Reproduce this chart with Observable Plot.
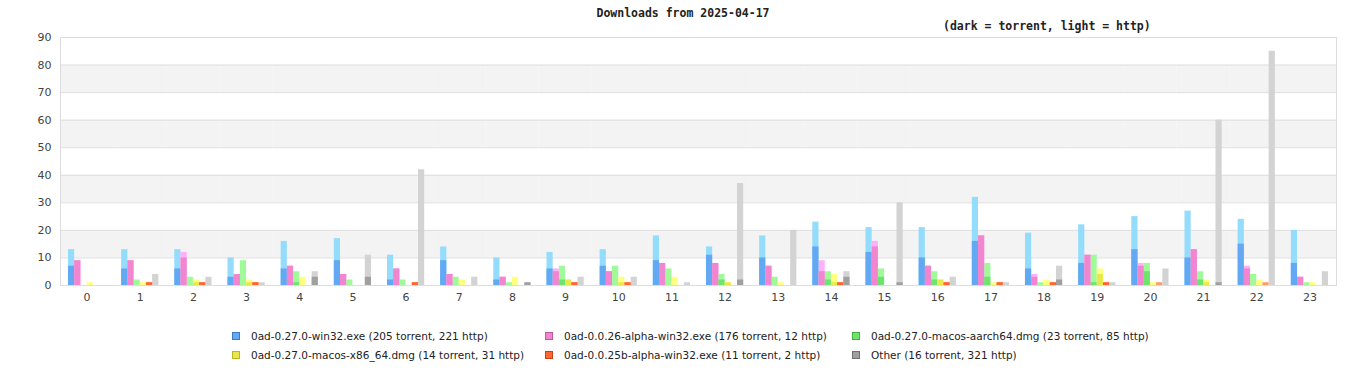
<!DOCTYPE html>
<html>
<head>
<meta charset="utf-8">
<script src="https://cdn.jsdelivr.net/npm/d3@7"></script>
<script src="https://cdn.jsdelivr.net/npm/@observablehq/plot@0.6"></script>
<style>
  body { margin: 0; background: #fff; }
  #wrap { position: relative; width: 1366px; height: 380px; }
  #chart { position: absolute; left: 0; top: 0; }
  .title { position: absolute; left: 0; top: 6px; width: 1366px; text-align: center;
           font: bold 11.5px "DejaVu Sans Mono", monospace; color: #222; }
  .subtitle { position: absolute; left: 943px; top: 19px;
              font: bold 11.5px "DejaVu Sans Mono", monospace; color: #222; white-space: pre; }
  #legend { position: absolute; left: 232px; top: 326px; display: grid;
            grid-template-columns: 313px 307px auto; grid-auto-rows: 19px;
            font: 10.5px "DejaVu Sans", sans-serif; color: #222; }
  .item { display: flex; align-items: center; white-space: nowrap; }
  .sw { flex: 0 0 auto; width: 6px; height: 6px; margin-right: 11px; border: 1px solid; }
</style>
</head>
<body>
<div id="wrap">
  <div id="chart"></div>
  <div class="title">Downloads from 2025-04-17</div>
  <div class="subtitle">(dark = torrent, light = http)</div>
  <div id="legend"></div>
</div>
<script>
const hours = [0,1,2,3,4,5,6,7,8,9,10,11,12,13,14,15,16,17,18,19,20,21,22,23];
const seriesNames = [
  "0ad-0.27.0-win32.exe",
  "0ad-0.0.26-alpha-win32.exe",
  "0ad-0.27.0-macos-aarch64.dmg",
  "0ad-0.27.0-macos-x86_64.dmg",
  "0ad-0.0.25b-alpha-win32.exe",
  "Other"
];
const legendLabels = [
  "0ad-0.27.0-win32.exe (205 torrent, 221 http)",
  "0ad-0.0.26-alpha-win32.exe (176 torrent, 12 http)",
  "0ad-0.27.0-macos-aarch64.dmg (23 torrent, 85 http)",
  "0ad-0.27.0-macos-x86_64.dmg (14 torrent, 31 http)",
  "0ad-0.0.25b-alpha-win32.exe (11 torrent, 2 http)",
  "Other (16 torrent, 321 http)"
];

const torrentWin32   = [7,6,6,3,6,9,2,9,2,6,7,9,11,10,14,12,10,16,6,8,13,10,15,8];
const httpWin32      = [6,7,7,7,10,8,9,5,8,6,6,9,3,8,9,9,11,16,13,14,12,17,9,12];
const torrentAlpha26 = [9,9,10,4,7,4,6,4,3,5,5,8,8,7,5,14,7,18,3,11,7,13,6,3];
const httpAlpha26    = [0,0,2,0,0,0,0,0,0,1,0,0,0,0,4,2,0,0,1,0,1,0,1,0];
const torrentAarch64 = [0,0,0,0,1,0,0,0,0,2,0,0,2,0,2,3,2,3,0,1,5,2,0,0];
const httpAarch64    = [0,2,3,9,4,2,2,3,1,5,7,6,2,3,3,3,3,5,1,10,3,3,4,1];
const torrentX86     = [0,0,1,1,0,0,0,0,0,2,1,0,1,0,1,0,2,0,0,4,0,1,0,0];
const httpX86        = [1,1,1,1,3,0,0,2,3,0,2,3,0,1,3,0,0,1,2,2,1,1,2,1];
const torrentAlpha25 = [0,1,1,1,0,0,1,0,0,1,1,0,0,0,1,0,1,1,1,1,0,0,0,0];
const httpAlpha25    = [0,0,0,0,0,0,0,0,0,0,0,0,0,0,0,0,0,0,0,0,1,0,1,0];
const torrentOther   = [0,0,0,0,3,3,0,0,1,0,0,0,2,0,3,1,0,0,2,0,0,1,0,0];
const httpOther      = [0,4,3,1,2,8,42,3,0,3,3,1,35,20,2,29,3,1,5,1,6,59,85,5];

const yTicks = [0,10,20,30,40,50,60,70,80,90];

const darkColors  = ["#63a8f2","#f285cf","#6ee46e","#e8e84e","#ff6633","#a0a0a0"];
const lightColors = ["#94dcfc","#ffb0f8","#a0fa9a","#ffff80","#ff9966","#d3d3d3"];
const borderColors = ["#3d7cc4","#c0589f","#44b044","#b8b820","#cc4010","#707070"];

const torrentBySeries = [torrentWin32, torrentAlpha26, torrentAarch64, torrentX86, torrentAlpha25, torrentOther];
const httpBySeries = [httpWin32, httpAlpha26, httpAarch64, httpX86, httpAlpha25, httpOther];

const rows = [];
seriesNames.forEach((s, i) => hours.forEach((h, j) => {
  rows.push({hour: h, series: s, idx: i, torrent: torrentBySeries[i][j], http: httpBySeries[i][j]});
}));
const bands = yTicks.slice(0, -1)
  .map((t, i) => ({y1: t, y2: yTicks[i + 1], i}))
  .filter(d => d.i % 2 === 1);

const ext = -8;
const chart = Plot.plot({
  width: 1366, height: 310,
  marginLeft: 60, marginRight: 30, marginTop: 37, marginBottom: 25,
  style: {fontFamily: "DejaVu Sans, sans-serif", fontSize: "11px", color: "#444", background: "transparent"},
  fx: {domain: hours, paddingInner: 0.3, paddingOuter: 0.15, round: false, label: null, axis: "bottom", tickSize: 0, tickPadding: 8},
  x: {domain: seriesNames, padding: 0, round: false, axis: null},
  y: {domain: [0, 90], axis: null},
  color: {type: "identity"},
  marks: [
    Plot.rect(bands, {y1: "y1", y2: "y2", fill: "#f3f3f3", insetLeft: ext, insetRight: ext}),
    Plot.ruleY(yTicks, {stroke: "#dedede", insetLeft: ext, insetRight: ext}),
    Plot.barY(rows, {fx: "hour", x: "series", y1: 0, y2: d => d.torrent + d.http, fill: d => lightColors[d.idx]}),
    Plot.barY(rows, {fx: "hour", x: "series", y1: 0, y2: "torrent", fill: d => darkColors[d.idx]}),
    Plot.axisY(yTicks, {tickSize: 0, tickPadding: 17, label: null, fill: "#444"}),
    Plot.frame({facet: "super", stroke: "#dddddd", insetLeft: ext, insetRight: ext})
  ]
});
document.getElementById("chart").appendChild(chart);

const legend = document.getElementById("legend");
legendLabels.forEach((lab, i) => {
  const it = document.createElement("div");
  it.className = "item";
  const sw = document.createElement("span");
  sw.className = "sw";
  sw.style.background = darkColors[i];
  sw.style.borderColor = borderColors[i];
  it.appendChild(sw);
  const t = document.createElement("span");
  t.textContent = lab;
  it.appendChild(t);
  legend.appendChild(it);
});
</script>
</body>
</html>
